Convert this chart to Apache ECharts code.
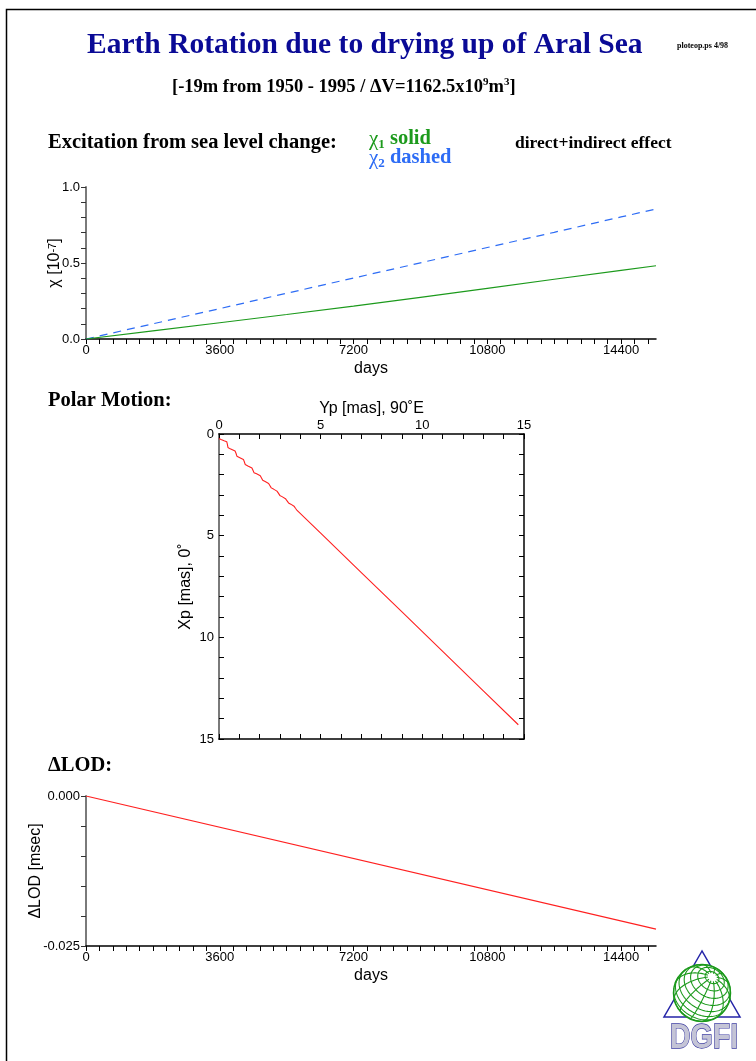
<!DOCTYPE html>
<html><head><meta charset="utf-8">
<script src="https://cdn.jsdelivr.net/npm/echarts@6/dist/echarts.min.js"></script>
<style>html,body{margin:0;padding:0;background:#fff;overflow:hidden}#c{width:756px;height:1061px}</style>
</head><body><div id="c"></div>
<script>
// ---------- data ----------
const excitationDays = [0, 1800, 3600, 5400, 7200, 9000, 10800, 12600, 14400, 15340];
const chi1Values = [0, 0.053, 0.107, 0.161, 0.216, 0.274, 0.333, 0.393, 0.452, 0.482];
const chi2Values = [0, 0.100, 0.200, 0.301, 0.401, 0.501, 0.602, 0.702, 0.803, 0.855];
const dayLabelStep = 3600;
const dayMax = 15340;
const polarYp = [0.00,0.10,0.25,0.38,0.41,0.44,0.55,0.79,0.84,0.88,1.00,1.20,1.25,1.29,1.42,1.62,1.67,1.72,1.85,2.03,2.09,2.15,2.27,2.44,2.50,2.57,2.68,2.85,2.92,2.99,3.10,3.27,3.34,3.42,3.53,3.69,3.76,3.84,5.00,7.00,9.00,11.00,13.00,14.72];
const polarXp = [0.22,0.27,0.33,0.38,0.50,0.66,0.73,0.84,0.96,1.09,1.15,1.25,1.38,1.50,1.57,1.67,1.78,1.90,1.96,2.05,2.16,2.28,2.34,2.43,2.53,2.65,2.71,2.81,2.91,3.02,3.08,3.18,3.28,3.39,3.45,3.55,3.65,3.76,4.88,6.82,8.75,10.69,12.63,14.30];
const lodDays = [0, 15340];
const lodValues = [0, -0.0222];

// ---------- styles ----------
const SANS = '"Liberation Sans", Arial, sans-serif';
const SERIF = '"Liberation Serif", "Times New Roman", serif';
const GREEN = '#1c9a1c';
const BLUE = '#2d6cf5';
const RED = '#ff2020';
const GRAYAX = '#7a7a7a';

function pairs(xs, ys) { return xs.map((x, i) => [x, ys[i]]); }

function daysAxis(gridIndex) {
  return {
    type: 'value', gridIndex, min: 0, max: dayMax, interval: 360,
    name: 'days', nameLocation: 'middle', nameGap: 22, nameMoveOverlap: false,
    nameTextStyle: { fontFamily: SANS, fontSize: 16, color: '#000' },
    axisLine: { onZero: false, lineStyle: { color: '#000', width: 1.5 } },
    axisTick: { length: 5, lineStyle: { color: '#000', width: 1 } },
    axisLabel: { margin: 5, fontFamily: SANS, fontSize: 13, color: '#000', showMaxLabel: false,
      formatter: v => (v % dayLabelStep === 0 ? String(v) : '') },
    splitLine: { show: false }
  };
}
function boxAxis(extra) {
  return Object.assign({
    type: 'value', gridIndex: 1, min: 0, max: 15, interval: 5,
    axisLine: { onZero: false, lineStyle: { color: '#000', width: 1.5 } },
    axisTick: { inside: true, length: 5, lineStyle: { color: '#000' } },
    minorTick: { show: true, splitNumber: 5, length: 5, lineStyle: { color: '#000' } },
    axisLabel: { show: false },
    splitLine: { show: false }, minorSplitLine: { show: false }
  }, extra);
}

// ---------- logo globe ----------
function globePolylines(cx, cy, r) {
  const tilt = 33 * Math.PI / 180, elev = 48 * Math.PI / 180;
  const P = [Math.sin(tilt) * Math.cos(elev), Math.cos(tilt) * Math.cos(elev), Math.sin(elev)];
  let U = [P[1], -P[0], 0];
  const un = Math.hypot(U[0], U[1]); U = [U[0] / un, U[1] / un, 0];
  const V = [P[1] * U[2] - P[2] * U[1], P[2] * U[0] - P[0] * U[2], P[0] * U[1] - P[1] * U[0]];
  const pt = (lat, lon) => {
    const cl = Math.cos(lat), sl = Math.sin(lat), co = Math.cos(lon), so = Math.sin(lon);
    return [0, 1, 2].map(k => cl * (co * U[k] + so * V[k]) + sl * P[k]);
  };
  const out = [];
  const trace = (fn, n) => {
    let cur = [];
    for (let i = 0; i <= n; i++) {
      const p = fn(i / n);
      if (p[2] >= -0.02) cur.push([cx + r * p[0], cy - r * p[1]]);
      else { if (cur.length > 1) out.push(cur); cur = []; }
    }
    if (cur.length > 1) out.push(cur);
  };
  const D = Math.PI / 180;
  for (let lon = 10; lon < 370; lon += 30) trace(t => pt((-90 + 170 * t) * D, lon * D), 60);
  for (let lat = -60; lat <= 75; lat += 15) trace(t => pt(lat * D, 360 * t * D), 120);
  return out.map(pts => ({ type: 'polyline', silent: true, shape: { points: pts },
    style: { stroke: GREEN, lineWidth: 1.1, fill: null } }));
}

const graphics = [
  { type: 'rect', silent: true, shape: { x: 6.5, y: 9.5, width: 800, height: 1100 },
    style: { fill: null, stroke: '#000', lineWidth: 1.5 } },
  { type: 'text', x: 87, y: 45, style: { text: 'Earth Rotation due to drying up of Aral Sea',
    font: 'bold 29.5px ' + SERIF, fill: '#0a0a96', verticalAlign: 'middle' } },
  { type: 'text', x: 677, y: 46, style: { text: 'ploteop.ps 4/98',
    font: 'bold 8px ' + SERIF, fill: '#000', verticalAlign: 'middle' } },
  { type: 'text', x: 172, y: 87, style: {
    text: '[-19m from 1950 - 1995 / \u0394V=1162.5x10{s|9}m{s|3}]',
    font: 'bold 18.5px ' + SERIF, fill: '#000', verticalAlign: 'middle',
    rich: { s: { font: 'bold 11px ' + SERIF, fill: '#000', verticalAlign: 'top', lineHeight: 20 } } } },
  { type: 'text', x: 48, y: 143, style: { text: 'Excitation from sea level change:',
    font: 'bold 20.5px ' + SERIF, fill: '#000', verticalAlign: 'middle' } },
  { type: 'text', x: 369, y: 139, style: { text: '{c|\u03c7}{s|1}{b| solid}',
    fill: GREEN, verticalAlign: 'middle',
    rich: { c: { font: '21px ' + SERIF, fill: GREEN }, b: { font: 'bold 20.5px ' + SERIF, fill: GREEN },
      s: { font: 'bold 13px ' + SERIF, fill: GREEN, verticalAlign: 'bottom', lineHeight: 24 } } } },
  { type: 'text', x: 369, y: 158, style: { text: '{c|\u03c7}{s|2}{b| dashed}',
    fill: BLUE, verticalAlign: 'middle',
    rich: { c: { font: '21px ' + SERIF, fill: BLUE }, b: { font: 'bold 20.5px ' + SERIF, fill: BLUE },
      s: { font: 'bold 13px ' + SERIF, fill: BLUE, verticalAlign: 'bottom', lineHeight: 24 } } } },
  { type: 'text', x: 515, y: 143, style: { text: 'direct+indirect effect',
    font: 'bold 17.5px ' + SERIF, fill: '#000', verticalAlign: 'middle' } },
  { type: 'text', x: 48, y: 401, style: { text: 'Polar Motion:',
    font: 'bold 20.5px ' + SERIF, fill: '#000', verticalAlign: 'middle' } },
  { type: 'text', x: 48, y: 766, style: { text: '\u0394LOD:',
    font: 'bold 20.5px ' + SERIF, fill: '#000', verticalAlign: 'middle' } },
  // logo
  { type: 'polygon', silent: true, shape: { points: [[702, 951], [664, 1017], [740, 1017]] },
    style: { fill: null, stroke: '#2424a8', lineWidth: 1.5 } },
  { type: 'circle', silent: true, shape: { cx: 702, cy: 993, r: 28.5 },
    style: { fill: '#fff', stroke: GREEN, lineWidth: 1.5 } },
  ...globePolylines(702, 993, 28.5),
  { type: 'text', x: 704, y: 1038, scaleX: 0.82, style: { text: 'DGFI', font: 'bold 35px ' + SANS,
    fill: '#c4c4d6', stroke: '#3a3aa0', lineWidth: 1.3, align: 'center', verticalAlign: 'middle' } }
];

const chart = echarts.init(document.getElementById('c'), null, { renderer: 'canvas' });
chart.setOption({
  animation: false,
  backgroundColor: '#fff',
  grid: [
    { left: 86, top: 187, width: 570, height: 152, outerBoundsMode: 'none' },
    { left: 219, top: 434, width: 305, height: 305, outerBoundsMode: 'none' },
    { left: 86, top: 796, width: 570, height: 150, outerBoundsMode: 'none' }
  ],
  xAxis: [
    daysAxis(0),
    boxAxis({ position: 'top', name: 'Yp [mas], 90\u02daE', nameLocation: 'middle', nameGap: 17, nameMoveOverlap: false,
      nameTextStyle: { fontFamily: SANS, fontSize: 16, color: '#000' },
      axisLabel: { show: true, margin: 2, fontFamily: SANS, fontSize: 13, color: '#000' } }),
    boxAxis({ position: 'bottom' }),
    daysAxis(2)
  ],
  yAxis: [
    { type: 'value', gridIndex: 0, min: 0, max: 1, interval: 0.5,
      name: '\u03c7 [10{s|-7}]', nameLocation: 'middle', nameGap: 23, nameMoveOverlap: false,
      nameTextStyle: { fontFamily: SANS, fontSize: 16, color: '#000',
        rich: { s: { fontFamily: SANS, fontSize: 11, verticalAlign: 'top', color: '#000' } } },
      axisLine: { show: true, lineStyle: { color: GRAYAX, width: 2 } },
      axisTick: { show: true, length: 5, lineStyle: { color: '#333' } },
      minorTick: { show: true, splitNumber: 5, length: 5, lineStyle: { color: '#333' } },
      axisLabel: { margin: 6, fontFamily: SANS, fontSize: 13, color: '#000', formatter: v => v.toFixed(1) },
      splitLine: { show: false }, minorSplitLine: { show: false } },
    boxAxis({ position: 'left', inverse: true, name: 'Xp [mas], 0\u02da', nameLocation: 'middle', nameGap: 25, nameMoveOverlap: false,
      nameTextStyle: { fontFamily: SANS, fontSize: 16, color: '#000' },
      axisLine: { onZero: false, lineStyle: { color: GRAYAX, width: 2 } },
      axisLabel: { show: true, margin: 5, fontFamily: SANS, fontSize: 13, color: '#000' } }),
    boxAxis({ position: 'right', inverse: true }),
    { type: 'value', gridIndex: 2, min: -0.025, max: 0, interval: 0.025,
      name: '\u0394LOD [msec]', nameLocation: 'middle', nameGap: 42, nameMoveOverlap: false,
      nameTextStyle: { fontFamily: SANS, fontSize: 16, color: '#000' },
      axisLine: { show: true, onZero: false, lineStyle: { color: GRAYAX, width: 2 } },
      axisTick: { show: true, length: 5, lineStyle: { color: '#333' } },
      minorTick: { show: true, splitNumber: 5, length: 5, lineStyle: { color: '#333' } },
      axisLabel: { margin: 6, fontFamily: SANS, fontSize: 13, color: '#000', formatter: v => v.toFixed(3) },
      splitLine: { show: false }, minorSplitLine: { show: false } }
  ],
  series: [
    { type: 'line', xAxisIndex: 0, yAxisIndex: 0, data: pairs(excitationDays, chi2Values),
      showSymbol: false, lineStyle: { color: BLUE, width: 1.2, type: [8, 6] } },
    { type: 'line', xAxisIndex: 0, yAxisIndex: 0, data: pairs(excitationDays, chi1Values),
      showSymbol: false, lineStyle: { color: GREEN, width: 1.2 } },
    { type: 'line', xAxisIndex: 1, yAxisIndex: 1, data: pairs(polarYp, polarXp),
      showSymbol: false, lineStyle: { color: RED, width: 1.1 } },
    { type: 'line', xAxisIndex: 3, yAxisIndex: 3, data: pairs(lodDays, lodValues),
      showSymbol: false, lineStyle: { color: RED, width: 1.2 } }
  ],
  graphic: graphics
});
</script></body></html>
